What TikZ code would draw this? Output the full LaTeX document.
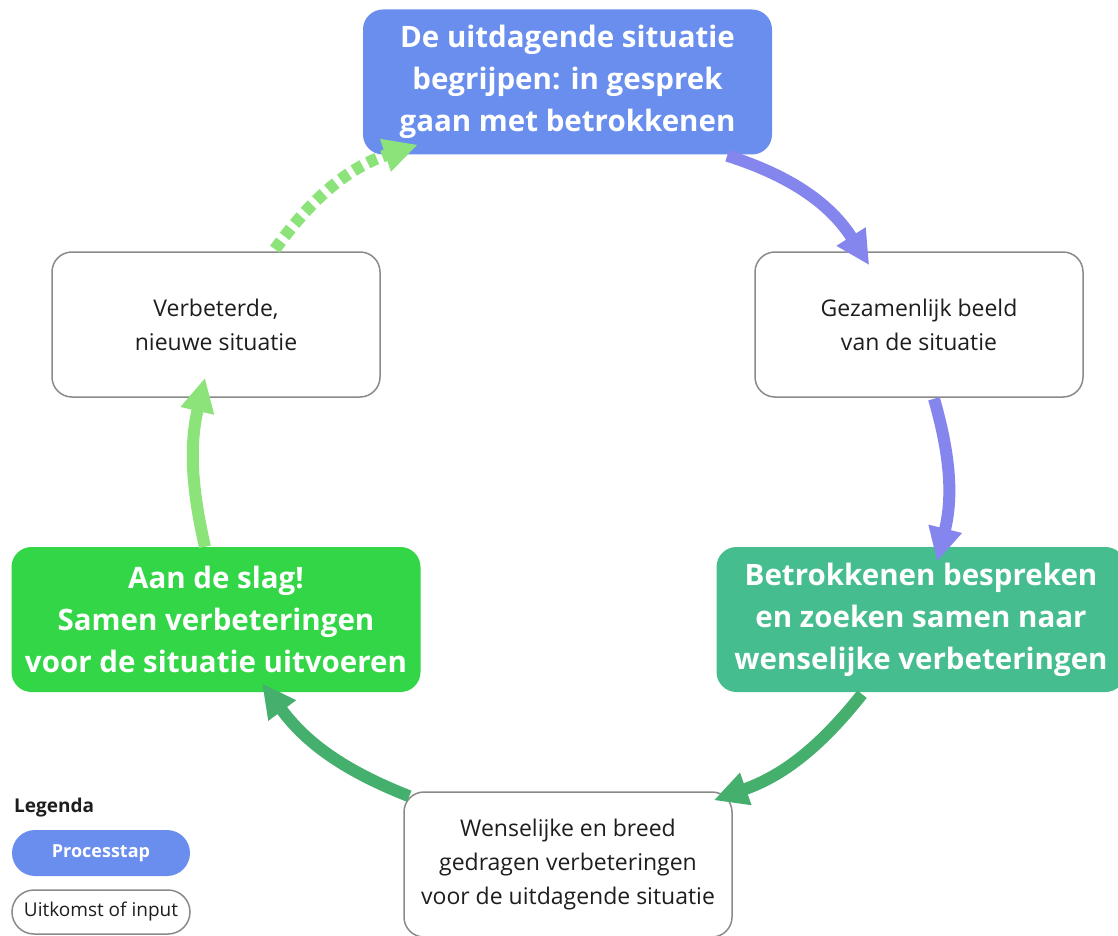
\documentclass[tikz,border=0pt]{standalone}
\usepackage{fontspec}
\setmainfont{Open Sans}
\usepackage{xcolor}
\usepackage{tikz}
\usetikzlibrary{calc,arrows.meta}
\definecolor{stepblue}{HTML}{6A8EEE}
\definecolor{stepteal}{HTML}{45BD8F}
\definecolor{stepgreen}{HTML}{33D647}
\definecolor{arrpurple}{HTML}{8585EE}
\definecolor{arrgreen}{HTML}{45AF6E}
\definecolor{arrlight}{HTML}{8BE37A}
\definecolor{boxline}{HTML}{8A8A8A}
\definecolor{ink}{HTML}{1E1E1E}
\tikzset{
  proc/.style={rounded corners=20pt, minimum width=409pt, minimum height=145pt, inner sep=0pt,
    text=white, align=center, font=\fontsize{29.5}{42}\selectfont\bfseries},
  outc/.style={draw=boxline, line width=1.5pt, fill=white, rounded corners=20pt,
    minimum width=328pt, minimum height=145pt, inner sep=0pt,
    text=ink, align=center, font=\fontsize{23}{34}\selectfont},
  flow/.style={line width=12pt, -{Triangle[width=32pt,length=34pt]}},
  dots/.style={flow, dash pattern=on 10pt off 6pt},
  lgd/.style={text=ink, font=\fontsize{19}{20}\selectfont\bfseries}
}

\begin{document}
\begin{tikzpicture}[x=1pt, y=-1pt]
  \useasboundingbox[fill=white] (0,0) rectangle (1118,936);

  \node[proc, fill=stepblue] (begrip) at (567.5,82) {De uitdagende situatie\\begrijpen: in gesprek\\gaan met betrokkenen};
  \node[outc] (beeld) at (919,324.5) {Gezamenlijk beeld\\van de situatie};
  \node[proc, fill=stepteal] (bespreek) at (921,619.5) {Betrokkenen bespreken\\en zoeken samen naar\\wenselijke verbeteringen};
  \node[outc] (wensen) at (568,864.5) {Wenselijke en breed\\gedragen verbeteringen\\voor de uitdagende situatie};
  \node[proc, fill=stepgreen] (slag) at (216,619.5) {Aan de slag!\\Samen verbeteringen\\voor de situatie uitvoeren};
  \node[outc] (nieuw) at (216,324.5) {Verbeterde,\\nieuwe situatie};

  % pijlen rond de cirkel
  \draw[flow, arrpurple] ([shift={(-45,1)}]begrip.south east) to[bend left=20] ([shift={(115,14)}]beeld.north west);
  \draw[flow, arrpurple] ([shift={(15,1)}]beeld.south) to[bend left=15] ([shift={(16,15)}]bespreek.north);
  \draw[flow, arrgreen] ([shift={(-59,2)}]bespreek.south) to[bend left=16] ([shift={(-19,9)}]wensen.north east);
  \draw[flow, arrgreen] ([shift={(6,5)}]wensen.north west) to[bend left=16] ([shift={(46,-9)}]slag.south);
  \draw[flow, arrlight] ([shift={(-11,0)}]slag.north) to[bend left=13] ([shift={(-11,-20)}]nieuw.south);
  \draw[dots, arrlight] ([shift={(59,-2)}]nieuw.north) to[bend left=18] ([shift={(55,-10)}]begrip.south west);

  % legenda
  \node[lgd, anchor=west, inner sep=0pt] (legenda) at (14,808) {Legenda};
  \node[proc, fill=stepblue, rounded corners=23pt, minimum width=178pt, minimum height=46pt,
    font=\fontsize{18}{20}\selectfont\bfseries] (lproc) at (101,853) {Processtap};
  \node[outc, rounded corners=22pt, minimum width=178pt, minimum height=44pt,
    font=\fontsize{19}{20}\selectfont] (luit) at (101,912) {Uitkomst of input};
\end{tikzpicture}
\end{document}
